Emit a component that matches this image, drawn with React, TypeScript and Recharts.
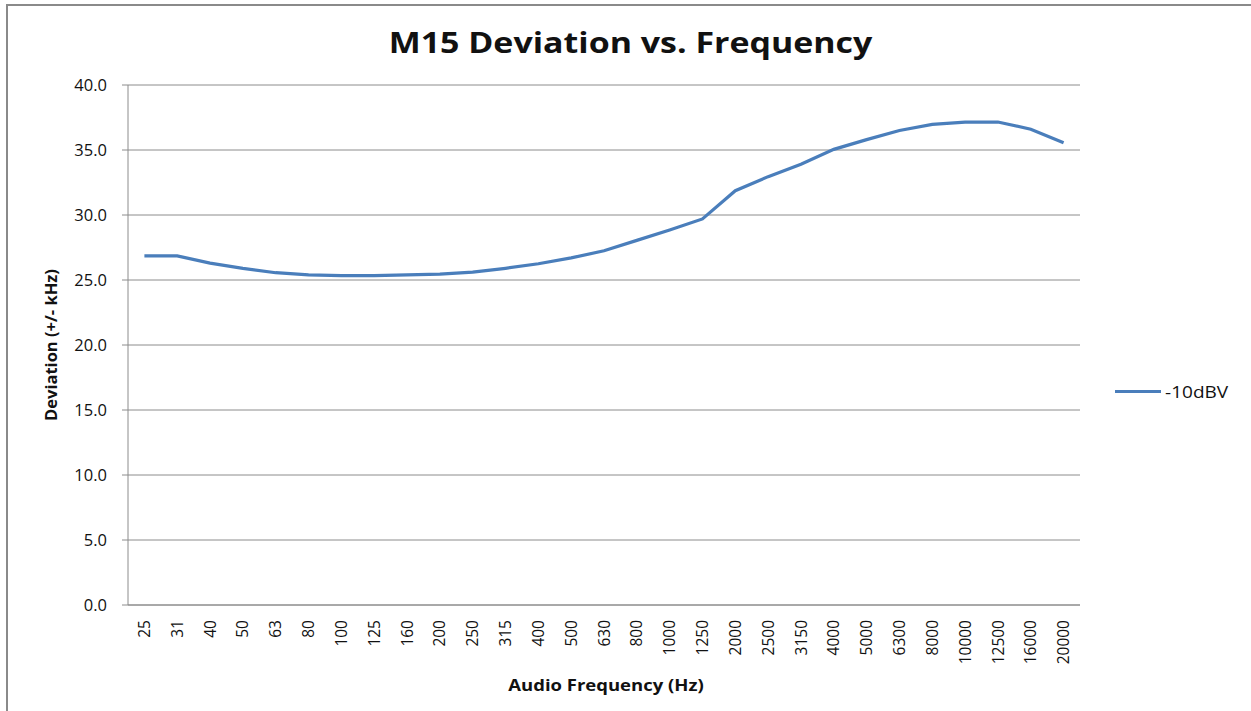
import { LineChart, Line, XAxis, YAxis, CartesianGrid } from 'recharts';

const frequencies = [
  '25', '31', '40', '50', '63', '80', '100', '125', '160', '200', '250', '315', '400', '500',
  '630', '800', '1000', '1250', '2000', '2500', '3150', '4000', '5000', '6300', '8000',
  '10000', '12500', '16000', '20000',
];

const deviation = [
  26.85, 26.85, 26.3, 25.9, 25.56, 25.4, 25.33, 25.33, 25.4, 25.45, 25.6, 25.9, 26.25, 26.7,
  27.25, 28.05, 28.85, 29.7, 31.87, 32.95, 33.9, 35.05, 35.8, 36.5, 36.97, 37.15, 37.15, 36.6,
  35.55,
];

const yTicks = [0, 5, 10, 15, 20, 25, 30, 35, 40];

const seriesName = '-10dBV';

const data = frequencies.map((f, i) => ({ freq: f, value: deviation[i] }));

const font = '"Open Sans", "Liberation Sans", sans-serif';
const blue = '#4a7ebb';
const grid = '#8c8c8c';

const RotatedTick = (props: any) => {
  const { x, y, payload } = props;
  const ty = y + 7;
  return (
    <text
      transform={`rotate(-90 ${x} ${ty})`}
      textAnchor="end"
      fontSize={15.5}
      fontFamily={font}
      fill="#111"
    >
      <tspan x={x} y={ty} dy="0.36em">
        {payload.value}
      </tspan>
    </text>
  );
};

export default function App() {
  return (
    <div
      style={{
        position: 'fixed',
        left: 0,
        top: 0,
        width: 1251,
        height: 711,
        background: '#fff',
        overflow: 'hidden',
        fontFamily: font,
      }}
    >
      {/* outer frame */}
      <div
        style={{
          position: 'absolute',
          left: 6,
          top: 4,
          width: 1400,
          height: 900,
          border: '2px solid #8a8a8a',
        }}
      />
      <div
        style={{
          position: 'absolute',
          left: 0,
          top: 22,
          width: 1261,
          textAlign: 'center',
          fontSize: 29,
          fontWeight: 700,
          color: '#111',
          transform: 'scaleX(1.17)',
        }}
      >
        M15 Deviation vs. Frequency
      </div>
      <div style={{ position: 'absolute', left: 0, top: 0 }}>
        <LineChart
          width={1251}
          height={711}
          data={data}
          margin={{ top: 85, right: 171, bottom: 0, left: 0 }}
        >
          <CartesianGrid vertical={false} stroke={grid} strokeWidth={1} />
          <XAxis
            dataKey="freq"
            height={106}
            padding={{ left: 16.4, right: 16.4 }}
            interval={0}
            tickLine={false}
            axisLine={{ stroke: grid }}
            tick={<RotatedTick />}
          />
          <YAxis
            width={128}
            domain={[0, 40]}
            ticks={yTicks}
            interval={0}
            tickFormatter={(v: number) => v.toFixed(1)}
            tickLine={{ stroke: grid }}
            tickSize={6}
            axisLine={{ stroke: grid }}
            tick={{ fontSize: 16.5, fill: '#111', fontFamily: font, dx: -13 }}
          />
          <Line
            type="linear"
            dataKey="value"
            name={seriesName}
            stroke={blue}
            strokeWidth={3.2}
            dot={false}
            isAnimationActive={false}
          />
        </LineChart>
      </div>
      <div
        style={{
          position: 'absolute',
          left: 0,
          top: 684,
          width: 1212,
          textAlign: 'center',
          fontSize: 16.5,
          fontWeight: 700,
          color: '#111',
          transform: 'translateY(-50%) scaleX(1.12)',
        }}
      >
        Audio Frequency (Hz)
      </div>
      <div
        style={{
          position: 'absolute',
          left: 50,
          top: 345,
          fontSize: 16.5,
          fontWeight: 700,
          color: '#111',
          whiteSpace: 'nowrap',
          transform: 'translate(-50%, -50%) rotate(-90deg)',
        }}
      >
        Deviation (+/- kHz)
      </div>
      <div
        style={{
          position: 'absolute',
          left: 1115,
          top: 380,
          display: 'flex',
          alignItems: 'center',
          fontSize: 17,
          color: '#111',
        }}
      >
        <div style={{ width: 46, height: 3, background: blue, marginRight: 4 }} />
        <span style={{ display: 'inline-block', transform: 'scaleX(1.12)', transformOrigin: 'left center' }}>
          {seriesName}
        </span>
      </div>
    </div>
  );
}
